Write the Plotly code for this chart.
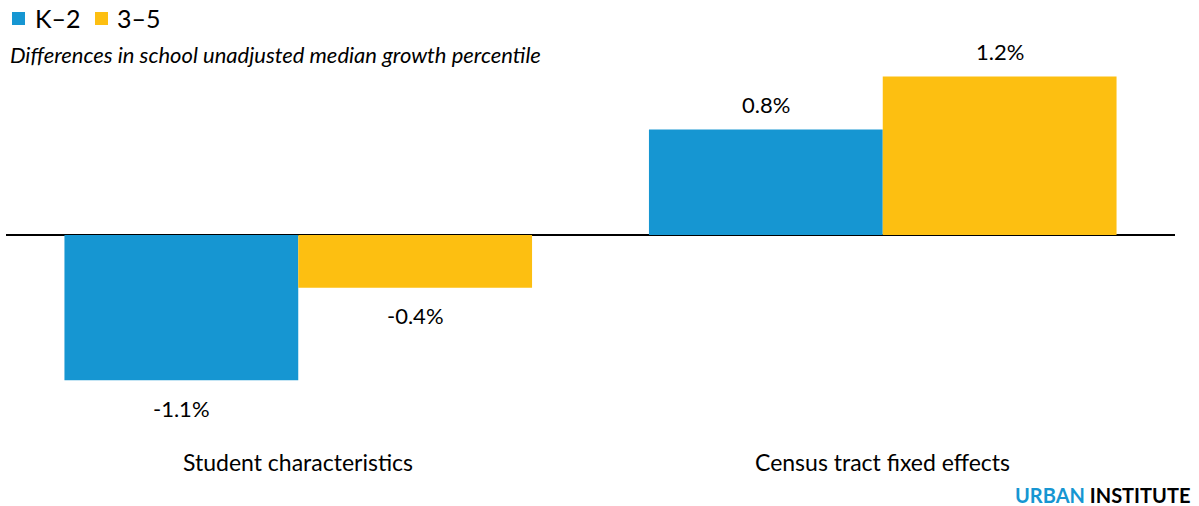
import plotly.graph_objects as go

# Data
categories = ["Student characteristics", "Census tract fixed effects"]
k2_values = [-1.1, 0.8]
g35_values = [-0.4, 1.2]
series_names = ["K–2", "3–5"]
series_colors = ["#1696d2", "#fdbf11"]

FONT = "Lato"
W, H = 1199, 506
M_L, M_R, M_T, M_B = 6, 24, 40, 66
plot_h = H - M_T - M_B
plot_w = W - M_L - M_R

x_pos = list(range(len(categories)))

fig = go.Figure()
for name, vals, color in zip(series_names, [k2_values, g35_values], series_colors):
    fig.add_trace(go.Bar(
        x=x_pos, y=vals, name=name, marker=dict(color=color, line=dict(width=0)),
        showlegend=False, hoverinfo="skip",
    ))

# Value labels above / below each bar
bar_w = 0.8 / 2
annotations = []
for s, vals in enumerate([k2_values, g35_values]):
    offset = -bar_w / 2 + s * bar_w
    for i, v in enumerate(vals):
        annotations.append(dict(
            x=x_pos[i] + offset, y=v, xref="x", yref="y",
            text=f"{v:.1f}%", showarrow=False,
            yshift=25 if v >= 0 else -28,
            font=dict(family=FONT, size=22, color="#000000"),
        ))

# Category labels under the plot
for i, c in enumerate(categories):
    annotations.append(dict(
        x=x_pos[i], y=-(462 - (H - M_B)) / plot_h, xref="x", yref="paper",
        text=c, showarrow=False, yanchor="middle",
        font=dict(family=FONT, size=23, color="#000000"),
    ))

def px_x(p):
    return (p - M_L) / plot_w

def px_y(p):
    return (H - M_B - p) / plot_h

# Legend: colour swatches and labels
shapes = []
legend_items = [(12, 33), (95, 115)]
for (sx, tx), name, color in zip(legend_items, series_names, series_colors):
    shapes.append(dict(
        type="rect", xref="paper", yref="paper",
        x0=px_x(sx), x1=px_x(sx + 13), y0=px_y(25), y1=px_y(12),
        fillcolor=color, line=dict(width=0),
    ))
    annotations.append(dict(
        x=px_x(tx), y=px_y(18), xref="paper", yref="paper",
        xanchor="left", yanchor="middle", text=name, showarrow=False,
        font=dict(family=FONT, size=25, color="#000000"),
    ))

# Subtitle
annotations.append(dict(
    x=px_x(8), y=px_y(55), xref="paper", yref="paper", xanchor="left", yanchor="middle",
    text="<i>Differences in school unadjusted median growth percentile</i>",
    showarrow=False, font=dict(family=FONT, size=22, color="#000000"),
))

# Branding
annotations.append(dict(
    x=px_x(1192), y=px_y(495), xref="paper", yref="paper", xanchor="right", yanchor="middle",
    text="<b><span style='color:#1696d2'>URBAN</span> INSTITUTE</b>",
    showarrow=False, font=dict(family=FONT, size=20, color="#000000"),
))

zero_px = 235
px_per_unit = 132
y_top = (zero_px - M_T) / px_per_unit
y_bot = -((H - M_B) - zero_px) / px_per_unit

fig.update_layout(
    width=W, height=H,
    margin=dict(l=M_L, r=M_R, t=M_T, b=M_B),
    paper_bgcolor="white", plot_bgcolor="white",
    barmode="group", bargap=0.2, bargroupgap=0,
    xaxis=dict(range=[-0.5, len(categories) - 0.5], showticklabels=False,
               showgrid=False, zeroline=False, showline=False, ticks=""),
    yaxis=dict(range=[y_bot, y_top], showticklabels=False, showgrid=False,
               zeroline=True, zerolinecolor="#000000", zerolinewidth=2,
               showline=False, ticks=""),
    annotations=annotations,
    shapes=shapes,
    font=dict(family=FONT),
)

fig.write_html("out.html", config={"displayModeBar": False})
